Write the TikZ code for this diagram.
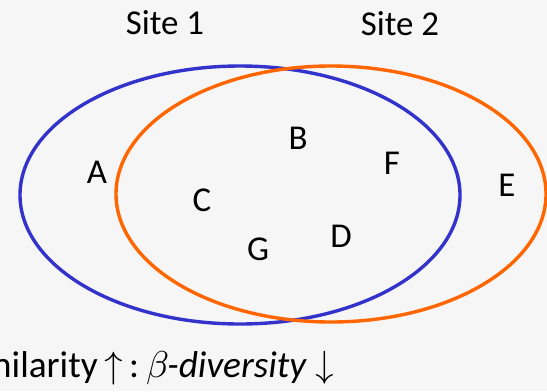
\documentclass[tikz,border=0pt]{standalone}
\usepackage{fontspec}
\setmainfont{Carlito}
\newfontfamily\symfont{Latin Modern Math}

\definecolor{siteblue}{RGB}{51,51,204}
\definecolor{siteorange}{RGB}{255,102,0}
\definecolor{paper}{RGB}{246,246,246}

\tikzset{
  big/.style={font=\fontsize{35}{42}\selectfont, inner sep=0pt},
  captiontext/.style={font=\fontsize{37.5}{44}\selectfont, inner sep=0pt},
  species/.style={big, anchor=center},
  sitering/.style={line width=3.4bp},
}

\begin{document}
\begin{tikzpicture}[x=1bp, y=-1bp]
  % canvas
  \useasboundingbox (0,0) rectangle (547,391);
  \clip (0,0) rectangle (547,391);
  \fill[paper] (0,0) rectangle (547,391);

  % site titles
  \node[big, anchor=base] (s1) at (165,34) {Site 1};
  \node[big, anchor=base] (s2) at (400,35) {Site 2};

  % the two sites as overlapping ellipses
  \coordinate (c1) at (240,195);
  \coordinate (c2) at (331,194);
  \draw[sitering, siteblue] (c1) ellipse [x radius=220, y radius=129];
  \draw[sitering, siteorange] (c2) ellipse [x radius=215, y radius=128];

  % species
  \node[species] (A) at (97,172) {A};
  \node[species] (B) at (298,138) {B};
  \node[species] (F) at (392,163) {F};
  \node[species] (E) at (507,185) {E};
  \node[species] (C) at (202,200) {C};
  \node[species] (G) at (258,249) {G};
  \node[species] (D) at (341,236) {D};

  % caption, set in three pieces on one baseline
  \node[captiontext, anchor=base east] (capsim) at (98,377) {Similarity};
  \node[captiontext, anchor=base west] (capup) at (104,377) {{\symfont ↑}\,:};
  \node[captiontext, anchor=base west] (capbeta) at (146,377)
    {{\symfont 𝛽}\textit{-diversity} {\symfont ↓}};
\end{tikzpicture}
\end{document}
